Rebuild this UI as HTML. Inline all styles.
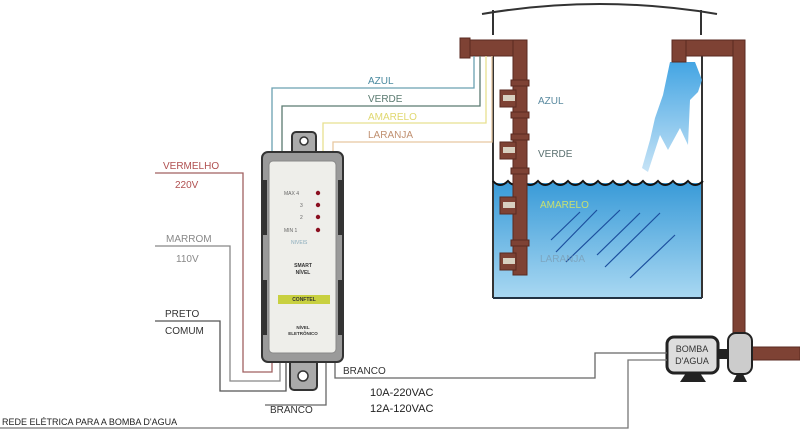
<!DOCTYPE html>
<html><head><meta charset="utf-8"><style>
html,body{margin:0;padding:0;background:#fff;}
svg{display:block;font-family:"Liberation Sans",sans-serif;}
</style></head><body>
<svg width="800" height="432" viewBox="0 0 800 432" xmlns="http://www.w3.org/2000/svg">
<defs>
<linearGradient id="w" x1="0" y1="0" x2="0" y2="1"><stop offset="0" stop-color="#3a9bd8"/><stop offset="1" stop-color="#a9d8f2"/></linearGradient>
<linearGradient id="sp" x1="0" y1="0" x2="0" y2="1"><stop offset="0" stop-color="#2f9be0"/><stop offset="1" stop-color="#c0e0f5"/></linearGradient>
</defs>
<!-- tank -->
<path d="M482 14 Q600 -6 717 14" fill="none" stroke="#333" stroke-width="2"/>
<line x1="493" y1="10" x2="493" y2="35" stroke="#333" stroke-width="2"/>
<line x1="701" y1="10" x2="701" y2="35" stroke="#333" stroke-width="2"/>
<rect x="493" y="183" width="209" height="115" fill="url(#w)"/>
<line x1="493" y1="55" x2="493" y2="298" stroke="#333" stroke-width="2"/>
<line x1="702" y1="55" x2="702" y2="298" stroke="#333" stroke-width="2"/>
<line x1="493" y1="298" x2="702" y2="298" stroke="#234" stroke-width="2"/>
<path d="M493 181 q7 8 15 0 q7 8 15 0 q7 8 15 0 q7 8 15 0 q7 8 15 0 q7 8 15 0 q7 8 15 0 q7 8 15 0 q7 8 15 0 q7 8 15 0 q7 8 15 0 q7 8 15 0 q7 8 15 0 q7 8 15 0" fill="none" stroke="#111" stroke-width="2"/>
<g stroke="#1c4f9e" stroke-width="1.2">
<line x1="551" y1="240" x2="580" y2="212"/><line x1="556" y1="252" x2="597" y2="210"/>
<line x1="566" y1="262" x2="620" y2="210"/><line x1="597" y1="255" x2="640" y2="213"/>
<line x1="605" y1="267" x2="660" y2="213"/><line x1="630" y1="278" x2="675" y2="235"/>
</g>
<!-- spray -->
<path d="M670 62 L695 62 L702 80 L698 92 L690 100 L688 145 L680 128 L668 150 L660 135 L648 172 L642 168 L650 140 L655 118 L663 95 Z" fill="url(#sp)" opacity="0.9"/>
<!-- left pipe -->
<rect x="463" y="40" width="64" height="16" fill="#7e4234" stroke="#5a2a20"/>
<rect x="513" y="40" width="14" height="235" fill="#7e4234" stroke="#5a2a20"/>
<rect x="460" y="38" width="10" height="20" fill="#7e4234" stroke="#5a2a20"/>
<g fill="#7e4234" stroke="#5a2a20">
<rect x="500" y="90" width="16" height="17"/><rect x="500" y="142" width="16" height="17"/>
<rect x="500" y="197" width="16" height="17"/><rect x="500" y="253" width="16" height="17"/>
<rect x="511" y="80" width="18" height="6"/><rect x="511" y="112" width="18" height="6"/>
<rect x="511" y="134" width="18" height="6"/><rect x="511" y="168" width="18" height="6"/>
<rect x="511" y="240" width="18" height="6"/>
</g>
<g fill="#d8d0c0"><rect x="503" y="95" width="12" height="6"/><rect x="503" y="147" width="12" height="6"/><rect x="503" y="202" width="12" height="6"/><rect x="503" y="258" width="12" height="6"/></g>
<!-- right pipe -->
<rect x="672" y="40" width="73" height="16" fill="#7e4234" stroke="#5a2a20"/>
<rect x="672" y="40" width="14" height="22" fill="#7e4234" stroke="#5a2a20"/>
<rect x="733" y="40" width="12" height="295" fill="#7e4234" stroke="#5a2a20"/>
<rect x="752" y="347" width="48" height="13" fill="#7e4234" stroke="#5a2a20"/>
<!-- pump -->
<rect x="718" y="349" width="12" height="10" fill="#222"/>
<rect x="667" y="337" width="51" height="36" rx="7" fill="#ddd" stroke="#222" stroke-width="3"/>
<path d="M680 382 L686 373 L700 373 L706 382 Z" fill="#222"/>
<rect x="728" y="333" width="24" height="41" rx="8" fill="#ccc" stroke="#222" stroke-width="2"/>
<path d="M733 382 L737 374 L743 374 L747 382 Z" fill="#222"/>
<text x="692" y="352" font-size="9" text-anchor="middle" fill="#333">BOMBA</text>
<text x="692" y="364" font-size="9" text-anchor="middle" fill="#333">D'AGUA</text>
<!-- tank labels -->
<text x="538" y="104" font-size="10" fill="#5a8aa0">AZUL</text>
<text x="538" y="157" font-size="10" fill="#5a7070">VERDE</text>
<text x="540" y="208" font-size="10" fill="#c8e070">AMARELO</text>
<text x="540" y="262" font-size="10" fill="#7a9ab0" opacity="0.7">LARANJA</text>
<!-- sensor wires -->
<g fill="none" stroke-width="1.3">
<path d="M272 152 V88 H474 V56" stroke="#6aa0b0"/>
<path d="M282 152 V106 H480 V56" stroke="#5a7a70"/>
<path d="M323 152 V123 H486 V56" stroke="#e8e090"/>
<path d="M333 152 V142 H492 V56" stroke="#e8c8a0"/>
<path d="M155 173 H243 V372 H272 V362" stroke="#a06060"/>
<path d="M155 246 H230 V381 H280 V362" stroke="#888"/>
<path d="M155 321 H220 V391 H286 V362" stroke="#555"/>
<path d="M326 362 V405 H265" stroke="#666"/>
<path d="M335 362 V378 H595 V353 H667" stroke="#666"/>
<path d="M0 428 H628 V360 H667" stroke="#777"/>
</g>
<text x="368" y="84" font-size="10" fill="#4a8aa0">AZUL</text>
<text x="368" y="102" font-size="10" fill="#5a7a70">VERDE</text>
<text x="368" y="120" font-size="10" fill="#e0d870">AMARELO</text>
<text x="368" y="138" font-size="10" fill="#c09070">LARANJA</text>
<text x="163" y="169" font-size="10" fill="#b05050">VERMELHO</text>
<text x="175" y="188" font-size="10" fill="#b05050">220V</text>
<text x="166" y="242" font-size="10" fill="#888">MARROM</text>
<text x="176" y="262" font-size="10" fill="#888">110V</text>
<text x="165" y="317" font-size="10" fill="#333">PRETO</text>
<text x="165" y="334" font-size="10" fill="#333">COMUM</text>
<text x="343" y="374" font-size="10" fill="#333">BRANCO</text>
<text x="270" y="413" font-size="10" fill="#333">BRANCO</text>
<text x="370" y="396" font-size="11" fill="#222">10A-220VAC</text>
<text x="370" y="412" font-size="11" fill="#222">12A-120VAC</text>
<text x="2" y="425" font-size="9" fill="#222">REDE ELÉTRICA PARA A BOMBA D'AGUA</text>
<!-- device -->
<rect x="292" y="132" width="24" height="26" rx="4" fill="#aaa" stroke="#333" stroke-width="2"/>
<circle cx="304" cy="141" r="4" fill="#fff" stroke="#333" stroke-width="1.5"/>
<rect x="290" y="358" width="27" height="32" rx="4" fill="#aaa" stroke="#333" stroke-width="2"/>
<circle cx="303" cy="376" r="5" fill="#fff" stroke="#333" stroke-width="1.5"/>
<rect x="262" y="152" width="81" height="210" rx="6" fill="#9a9a9a" stroke="#333" stroke-width="2"/>
<g fill="#333"><rect x="262" y="180" width="5" height="55"/><rect x="338" y="180" width="5" height="55"/><rect x="262" y="280" width="5" height="55"/><rect x="338" y="280" width="5" height="55"/></g>
<rect x="269" y="161" width="67" height="192" rx="4" fill="#eeeeea" stroke="#888"/>
<g font-size="5" fill="#666"><text x="284" y="195">MAX 4</text><text x="300" y="207">3</text><text x="300" y="219">2</text><text x="284" y="232">MIN 1</text><text x="291" y="244" fill="#8ab">NIVEIS</text></g>
<g fill="#8b1020"><circle cx="318" cy="193" r="2.2"/><circle cx="318" cy="205" r="2.2"/><circle cx="318" cy="217" r="2.2"/><circle cx="318" cy="230" r="2.2"/></g>
<text x="303" y="267" font-size="5" font-weight="bold" text-anchor="middle" fill="#333">SMART</text>
<text x="303" y="274" font-size="5" font-weight="bold" text-anchor="middle" fill="#333">NÍVEL</text>
<rect x="278" y="295" width="52" height="9" fill="#c8d040"/>
<text x="304" y="301" font-size="5" font-weight="bold" text-anchor="middle" fill="#333">CONFTEL</text>
<text x="303" y="329" font-size="4.5" font-weight="bold" text-anchor="middle" fill="#333">NÍVEL</text>
<text x="303" y="335" font-size="4.5" font-weight="bold" text-anchor="middle" fill="#333">ELETRÔNICO</text>
</svg>
</body></html>
